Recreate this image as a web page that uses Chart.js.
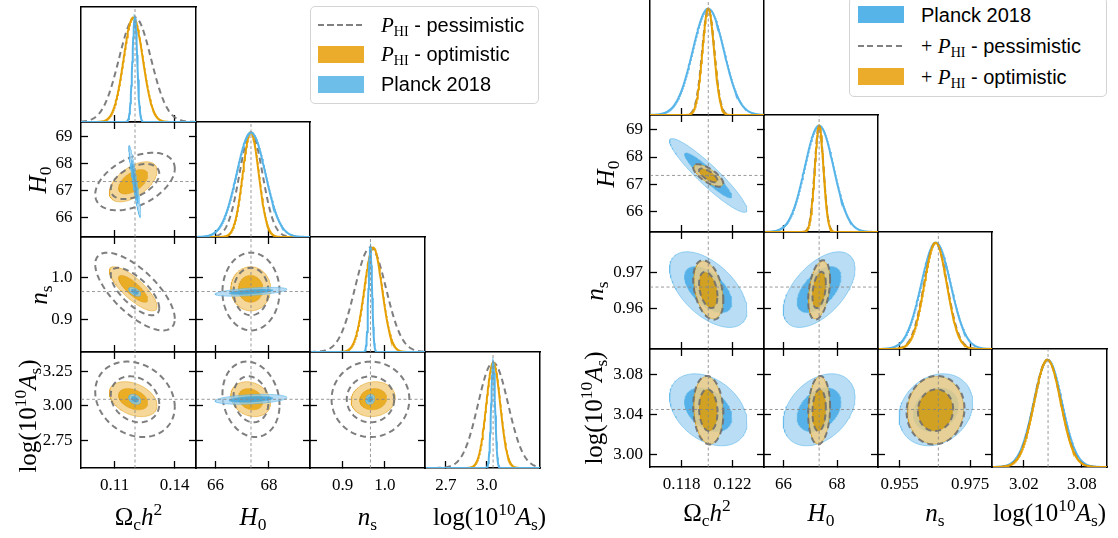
<!DOCTYPE html>
<html>
<head>
<meta charset="utf-8">
<script src="https://cdn.jsdelivr.net/npm/chart.js@4.4.1/dist/chart.umd.min.js"></script>
<style>
  body { margin: 0; background: #fff; }
  #page { position: relative; width: 1118px; height: 538px; overflow: hidden; }
  .panel { position: absolute; }
  .title { position: absolute; font-family: 'Liberation Serif', serif; font-size: 25px; white-space: nowrap; line-height: 1; transform: translate(-50%, -50%); }
  .ytitle { transform: translate(-50%, -50%) rotate(-90deg); }
  .title sub, .title sup { font-size: 0.7em; line-height: 0; }
  .title sub { vertical-align: -0.3em; }
  .title sup { vertical-align: 0.55em; }
  .leg { position: absolute; box-sizing: border-box; border: 1px solid #d4d4d4; border-radius: 5px; background: rgba(255,255,255,0.9); font-family: 'Liberation Sans', sans-serif; font-size: 20px; }
  .leg .patch { position: absolute; width: 46px; height: 17px; }
  .leg .dash { position: absolute; width: 46px; height: 2px; background: repeating-linear-gradient(to right, #808080 0 6px, transparent 6px 9.5px); }
  .leg .txt { position: absolute; white-space: nowrap; line-height: 1; transform: translateY(-50%); }
  .m { font-family: 'Liberation Serif', serif; font-style: italic; font-size: 21px; }
  .leg sub { font-family: 'Liberation Serif', serif; font-size: 0.7em; vertical-align: -0.3em; line-height: 0; }
</style>
</head>
<body>
<div id="page">
  <div class="leg" style="left:310px;top:6px;width:229px;height:98px;">
    <div class="dash" style="left:7px;top:17px;"></div>
    <div class="txt" style="left:70px;top:18px;"><span class="m">P</span><sub>HI</sub> - pessimistic</div>
    <div class="patch" style="left:7px;top:39px;background:#ebac2c;"></div>
    <div class="txt" style="left:70px;top:47px;"><span class="m">P</span><sub>HI</sub> - optimistic</div>
    <div class="patch" style="left:7px;top:69px;background:#6dbfea;"></div>
    <div class="txt" style="left:70px;top:77px;">Planck 2018</div>
  </div>
  <div class="leg" style="left:849px;top:-3px;width:258px;height:100px;">
    <div class="patch" style="left:8px;top:8px;background:#56b4e9;"></div>
    <div class="txt" style="left:71px;top:17px;">Planck 2018</div>
    <div class="dash" style="left:8px;top:47px;"></div>
    <div class="txt" style="left:71px;top:48px;"><span style="font-family:'Liberation Serif',serif;">+</span> <span class="m">P</span><sub>HI</sub> - pessimistic</div>
    <div class="patch" style="left:8px;top:70px;background:#ebac2c;"></div>
    <div class="txt" style="left:71px;top:79px;"><span style="font-family:'Liberation Serif',serif;">+</span> <span class="m">P</span><sub>HI</sub> - optimistic</div>
  </div>
</div>
<script>
// parameters: Omega_c h^2, H0, n_s, log(10^10 A_s)
// correlations listed as [c-H0, c-ns, c-As, H0-ns, H0-As, ns-As]

// ---- left figure: P_HI alone, with Planck 2018
const leftMin = [0.0932, 65.27, 0.823, 2.548];
const leftMax = [0.1507, 69.54, 1.095, 3.389];
const leftXTicks = [[0.11, 0.14], [66, 68], [0.9, 1.0], [2.7, 3.0]];
const leftXTickLabels = [['0.11', '0.14'], ['66', '68'], ['0.9', '1.0'], ['2.7', '3.0']];
const leftYTicks = [[], [66, 67, 68, 69], [0.9, 1.0], [2.75, 3.0, 3.25]];
const leftYTickLabels = [[], ['66', '67', '68', '69'], ['0.9', '1.0'], ['2.75', '3.00', '3.25']];
const leftFiducial = [0.1202, 67.33, 0.966, 3.046];

const pessLeftMean = [0.1202, 67.33, 0.966, 3.046];
const pessLeftSigma = [0.0080, 0.43, 0.037, 0.11];
const pessLeftCorr = [0.45, -0.7, -0.2, 0.0, -0.15, 0.0];

const optLeftMean = [0.1193, 67.32, 0.9725, 3.047];
const optLeftSigma = [0.0048, 0.30, 0.021, 0.051];
const optLeftCorr = [0.55, -0.8, -0.35, 0.0, -0.2, 0.1];

const planckLeftMean = [0.1201, 67.33, 0.9655, 3.046];
const planckLeftSigma = [0.0012, 0.54, 0.0042, 0.0145];
const planckLeftCorr = [-0.93, -0.55, -0.35, 0.55, 0.35, 0.15];

// ---- right figure: Planck 2018 + P_HI
const rightMin = [0.1155, 65.27, 0.9489, 2.987];
const rightMax = [0.1245, 69.53, 0.9812, 3.106];
const rightXTicks = [[0.118, 0.122], [66, 68], [0.955, 0.975], [3.02, 3.08]];
const rightXTickLabels = [['0.118', '0.122'], ['66', '68'], ['0.955', '0.975'], ['3.02', '3.08']];
const rightYTicks = [[], [66, 67, 68, 69], [0.96, 0.97], [3.0, 3.04, 3.08]];
const rightYTickLabels = [[], ['66', '67', '68', '69'], ['0.96', '0.97'], ['3.00', '3.04', '3.08']];
const rightFiducial = [0.1201, 67.33, 0.966, 3.045];

const planckRightMean = [0.1201, 67.33, 0.9653, 3.0447];
const planckRightSigma = [0.00123, 0.54, 0.0042, 0.0146];
const planckRightCorr = [-0.93, -0.55, -0.35, 0.55, 0.35, 0.2];

const pessRightMean = [0.1201, 67.33, 0.9652, 3.0443];
const pessRightSigma = [0.00048, 0.165, 0.0033, 0.0139];
const pessRightCorr = [-0.72, -0.35, -0.1, 0.35, 0.1, 0.05];

const optRightMean = [0.1201, 67.33, 0.9652, 3.0443];
const optRightSigma = [0.00046, 0.16, 0.0032, 0.0137];
const optRightCorr = [-0.72, -0.35, -0.1, 0.35, 0.1, 0.05];

// ---- layout (pixels)
const K1 = 1.515, K2 = 2.486; // 68% / 95% radii of a 2D gaussian
const STYLES = {
  pess: { kind: 'dash', line: 'rgba(112,112,112,0.9)' },
  opt: { kind: 'fill', line: '#E69F00', fill1: 'rgba(230,159,0,0.85)', fill2: 'rgba(242,205,128,0.8)', edge: 'rgba(225,150,0,0.45)' },
  planck: { kind: 'fill', line: '#56B4E9', fill1: 'rgba(66,168,228,0.9)', fill2: 'rgba(160,210,240,0.75)', edge: 'rgba(86,180,233,0.55)' }
};

const figures = [
  {
    cols: [81, 196, 310, 425, 540], rows: [7, 122, 237, 352, 468],
    min: leftMin, max: leftMax, xTicks: leftXTicks, xLabels: leftXTickLabels,
    yTicks: leftYTicks, yLabels: leftYTickLabels, fid: leftFiducial, yPad: 15.5,
    series2d: [
      { key: 'opt', mean: optLeftMean, sigma: optLeftSigma, corr: optLeftCorr },
      { key: 'pess', mean: pessLeftMean, sigma: pessLeftSigma, corr: pessLeftCorr },
      { key: 'planck', mean: planckLeftMean, sigma: planckLeftSigma, corr: planckLeftCorr }
    ],
    series1d: [
      { key: 'pess', mean: pessLeftMean, sigma: pessLeftSigma },
      { key: 'opt', mean: optLeftMean, sigma: optLeftSigma },
      { key: 'planck', mean: planckLeftMean, sigma: planckLeftSigma }
    ],
    titleY: 516, titleShift: [0, 0, 0, 7],
    ytitleX: [0, 37, 38, 27], ytitleShift: [0, 0, 0, 6]
  },
  {
    cols: [650, 764, 878, 992, 1107], rows: [-2, 115, 232, 349, 467],
    min: rightMin, max: rightMax, xTicks: rightXTicks, xLabels: rightXTickLabels,
    yTicks: rightYTicks, yLabels: rightYTickLabels, fid: rightFiducial, yPad: 14,
    series2d: [
      { key: 'planck', mean: planckRightMean, sigma: planckRightSigma, corr: planckRightCorr },
      { key: 'opt', mean: optRightMean, sigma: optRightSigma, corr: optRightCorr },
      { key: 'pess', mean: pessRightMean, sigma: pessRightSigma, corr: pessRightCorr }
    ],
    series1d: [
      { key: 'planck', mean: planckRightMean, sigma: planckRightSigma },
      { key: 'pess', mean: pessRightMean, sigma: pessRightSigma },
      { key: 'opt', mean: optRightMean, sigma: optRightSigma }
    ],
    titleY: 512, titleShift: [0, 0, 0, 0],
    ytitleX: [0, 605, 594, 593], ytitleShift: [0, 0, 0, 0]
  }
];

const xTitles = ['Ω<sub>c</sub><i>h</i><sup>2</sup>', '<i>H</i><sub>0</sub>', '<i>n</i><sub>s</sub>', 'log(10<sup>10</sup><i>A</i><sub>s</sub>)'];

function corrOf(c, a, b) {
  const p = Math.min(a, b), q = Math.max(a, b);
  return c[{ '0,1': 0, '0,2': 1, '0,3': 2, '1,2': 3, '1,3': 4, '2,3': 5 }[p + ',' + q]];
}

function ellipse(mx, my, sx, sy, r, k, reverse) {
  const pts = [];
  const n = 140;
  const q = Math.sqrt(1 - r * r);
  for (let t = 0; t <= n; t++) {
    const a = 2 * Math.PI * (reverse ? n - t : t) / n;
    const u = Math.cos(a), v = Math.sin(a);
    pts.push({ x: mx + k * sx * u, y: my + k * sy * (r * u + q * v) });
  }
  return pts;
}

function gaussCurve(m, s, lo, hi) {
  const pts = [];
  const n = 240;
  for (let t = 0; t <= n; t++) {
    const x = lo + (hi - lo) * t / n;
    pts.push({ x, y: Math.exp(-0.5 * ((x - m) / s) ** 2) });
  }
  return pts;
}

function lineSet(data, color, width, dash) {
  return { data, showLine: true, borderColor: color, borderWidth: width, borderDash: dash || [], pointRadius: 0, fill: false };
}
function fillSet(data, color) {
  return { data, showLine: true, borderColor: 'rgba(0,0,0,0)', borderWidth: 0, backgroundColor: color, pointRadius: 0, fill: 'shape' };
}

function axis(pos, min, max, ticks, labels, showLabels, drawTicks, size, pad) {
  const horiz = pos === 'top' || pos === 'bottom';
  return {
    type: 'linear', position: pos, min, max, bounds: 'data',
    afterBuildTicks: s => { if (ticks) s.ticks = ticks.map(v => ({ value: v })); },
    afterFit: s => {
      if (horiz) s.height = size; else s.width = size;
      s.paddingLeft = 0; s.paddingRight = 0; s.paddingTop = 0; s.paddingBottom = 0;
    },
    ticks: {
      display: showLabels, autoSkip: false, maxRotation: 0, minRotation: 0, padding: pad,
      color: '#000', font: { family: 'Liberation Serif', size: 17 },
      callback: (v, k) => labels ? labels[k] : ''
    },
    grid: { drawOnChartArea: false, drawTicks, tickLength: -7, tickWidth: 1.3, tickColor: '#000' },
    border: { display: true, color: '#000', width: 1.5 }
  };
}

const page = document.getElementById('page');

function makePanel(fig, i, j) {
  const mL = j === 0 ? 80 : 4, mR = 4, mT = 4, mB = i === 3 ? 40 : 4;
  const x0 = fig.cols[j], x1 = fig.cols[j + 1], y0 = fig.rows[i], y1 = fig.rows[i + 1];
  const W = x1 - x0 + mL + mR, H = y1 - y0 + mT + mB;
  const div = document.createElement('div');
  div.className = 'panel';
  div.style.left = (x0 - mL) + 'px';
  div.style.top = (y0 - mT) + 'px';
  div.style.width = W + 'px';
  div.style.height = H + 'px';
  const cv = document.createElement('canvas');
  cv.width = W; cv.height = H;
  cv.style.width = W + 'px'; cv.style.height = H + 'px';
  div.appendChild(cv);
  page.insertBefore(div, page.firstChild);

  const sets = [];
  const diag = i === j;
  const xmin = fig.min[j], xmax = fig.max[j];
  let ymin, ymax;
  if (diag) {
    ymin = 0; ymax = 1.1;
    fig.series1d.forEach(s => {
      const st = STYLES[s.key];
      if (st.kind === 'dash') sets.push(lineSet(gaussCurve(s.mean[j], s.sigma[j], xmin, xmax), st.line, 2, [6, 4]));
      else sets.push(lineSet(gaussCurve(s.mean[j], s.sigma[j], xmin, xmax), st.line, 2));
    });
  } else {
    ymin = fig.min[i]; ymax = fig.max[i];
    fig.series2d.forEach(s => {
      const st = STYLES[s.key];
      const mx = s.mean[j], my = s.mean[i], sx = s.sigma[j], sy = s.sigma[i];
      const r = corrOf(s.corr, j, i);
      const out2 = ellipse(mx, my, sx, sy, r, K2, false);
      const in1 = ellipse(mx, my, sx, sy, r, K1, false);
      if (st.kind === 'dash') {
        sets.push(lineSet(out2, st.line, 2, [6, 4]));
        sets.push(lineSet(in1, st.line, 2, [6, 4]));
      } else {
        sets.push(fillSet(out2.concat(ellipse(mx, my, sx, sy, r, K1, true)), st.fill2));
        sets.push(fillSet(in1, st.fill1));
        sets.push(lineSet(out2, st.edge, 1));
        sets.push(lineSet(in1, st.edge, 1));
      }
    });
    sets.push(lineSet([{ x: xmin, y: fig.fid[i] }, { x: xmax, y: fig.fid[i] }], 'rgba(135,135,135,0.85)', 1, [3, 2.5]));
  }
  sets.push(lineSet([{ x: fig.fid[j], y: ymin }, { x: fig.fid[j], y: ymax }], 'rgba(135,135,135,0.85)', 1, [3, 2.5]));
  sets.forEach((d, k) => { d.order = -k; });

  const xt = fig.xTicks[j], xl = fig.xLabels[j];
  const scales = {
    x: axis('bottom', xmin, xmax, xt, xl, i === 3, true, mB, 14),
    x2: axis('top', xmin, xmax, xt, xl, false, !diag, mT, 0),
    y: axis('left', ymin, ymax, diag ? [] : fig.yTicks[i], diag ? [] : fig.yLabels[i], !diag && j === 0, !diag, mL, fig.yPad),
    y2: axis('right', ymin, ymax, diag ? [] : fig.yTicks[i], null, false, !diag, mR, 0)
  };

  new Chart(cv, {
    type: 'scatter',
    data: { datasets: sets },
    options: {
      responsive: false, animation: false, events: [],
      layout: { padding: 0, autoPadding: false },
      plugins: { legend: { display: false }, tooltip: { enabled: false } },
      elements: { point: { radius: 0 }, line: { tension: 0 } },
      scales
    }
  });
}

figures.forEach(fig => {
  for (let i = 0; i < 4; i++) for (let j = 0; j <= i; j++) makePanel(fig, i, j);
  for (let k = 0; k < 4; k++) {
    const t = document.createElement('div');
    t.className = 'title';
    t.innerHTML = xTitles[k];
    t.style.left = ((fig.cols[k] + fig.cols[k + 1]) / 2 + fig.titleShift[k]) + 'px';
    t.style.top = fig.titleY + 'px';
    page.appendChild(t);
    if (k > 0) {
      const y = document.createElement('div');
      y.className = 'title ytitle';
      y.innerHTML = xTitles[k];
      y.style.left = fig.ytitleX[k] + 'px';
      y.style.top = ((fig.rows[k] + fig.rows[k + 1]) / 2 + fig.ytitleShift[k]) + 'px';
      page.appendChild(y);
    }
  }
});
</script>
</body>
</html>
